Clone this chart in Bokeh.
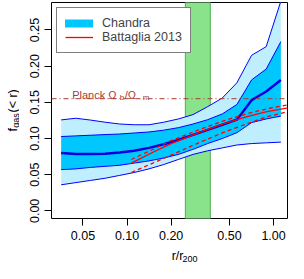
import math
from bokeh.plotting import figure
from bokeh.layouts import row, column
from bokeh.models import (Range1d, FixedTicker, NumeralTickFormatter, Span, Label,
                          Legend, LegendItem)
from bokeh.core.properties import value
from bokeh.embed import file_html
from bokeh.resources import INLINE

# ---------------- data ----------------
r_grid = [0.0355, 0.0447, 0.0562, 0.0708, 0.0891, 0.112, 0.141, 0.178,
          0.224, 0.282, 0.355, 0.447, 0.562, 0.708, 0.891, 1.122]
outer_lo = [0.036, 0.039, 0.042, 0.045, 0.049, 0.053, 0.058, 0.064,
            0.071, 0.078, 0.083, 0.087, 0.091, 0.093, 0.094, 0.095]
inner_lo = [0.057, 0.058, 0.060, 0.0615, 0.063, 0.066, 0.069, 0.073,
            0.078, 0.085, 0.093, 0.100, 0.108, 0.122, 0.127, 0.131]
median = [0.080, 0.0785, 0.0785, 0.079, 0.0805, 0.083, 0.087, 0.092,
          0.098, 0.105, 0.112, 0.119, 0.126, 0.153, 0.165, 0.181]
inner_hi = [0.1027, 0.1036, 0.1045, 0.1054, 0.1062, 0.1076, 0.109, 0.1115,
            0.115, 0.120, 0.126, 0.134, 0.147, 0.181, 0.196, 0.234]
outer_hi = [0.1257, 0.128, 0.1255, 0.1225, 0.120, 0.119, 0.119, 0.1225,
            0.127, 0.133, 0.144, 0.156, 0.177, 0.215, 0.227, 0.290]

batt_r = [0.107, 0.15, 0.2, 0.3, 0.45, 0.65, 0.9, 1.3]
batt_mid = [0.066, 0.081, 0.093, 0.107, 0.120, 0.130, 0.137, 0.143]
batt_hi = [0.071, 0.085, 0.097, 0.111, 0.124, 0.134, 0.141, 0.147]
batt_lo = [0.053, 0.066, 0.077, 0.093, 0.108, 0.120, 0.130, 0.138]

highlight_range = [0.25, 0.37]
planck_fb = 0.155

x_ticks = [0.05, 0.1, 0.2, 0.5, 1.0]
y_ticks = [0.0, 0.05, 0.10, 0.15, 0.20, 0.25]

# ---------------- style ----------------
FONT = "Liberation Sans"
LIGHT = "#bfefff"
CYAN = "#00c8ff"
BLUE = "#0000ff"
RED = "#ff0000"
PLANCK = "#a83a34"

YLAB_W = 19
XLAB_H = 18
P_W = 288 - YLAB_W
P_H = 263 - XLAB_H
B_LEFT, B_RIGHT, B_TOP, B_BOTTOM = 32, 1, 2, 27

p = figure(width=P_W, height=P_H, x_axis_type="log",
           x_range=Range1d(0.0305, 1.245), y_range=Range1d(-0.0106, 0.288),
           output_backend="svg", toolbar_location=None,
           min_border_left=B_LEFT, min_border_right=B_RIGHT, min_border_top=B_TOP,
           min_border_bottom=B_BOTTOM)
p.grid.visible = False
p.outline_line_color = "black"
p.outline_line_width = 1
p.background_fill_color = "white"
p.border_fill_color = "white"

for ax in (p.xaxis[0], p.yaxis[0]):
    ax.axis_line_color = None
    ax.major_tick_out = 7
    ax.major_tick_in = 0
    ax.minor_tick_out = 0
    ax.minor_tick_in = 0
    ax.major_tick_line_color = "black"
    ax.major_label_text_font = FONT
    ax.major_label_text_font_size = "12.5px"
    ax.major_label_text_color = "black"
    ax.formatter = NumeralTickFormatter(format="0.00")

p.xaxis.ticker = FixedTicker(ticks=x_ticks, minor_ticks=[])
p.yaxis.ticker = FixedTicker(ticks=y_ticks, minor_ticks=[])
p.xaxis.major_label_standoff = 5
p.yaxis.major_label_standoff = 5
p.yaxis.major_label_orientation = "vertical"

# green highlight
p.quad(left=[highlight_range[0]], right=[highlight_range[1]], bottom=[-1], top=[1],
       fill_color="#88e38a", line_color="#4caf50", line_width=1)

# bands
p.varea(x=r_grid, y1=outer_lo, y2=outer_hi, fill_color=LIGHT)
p.varea(x=r_grid, y1=inner_lo, y2=inner_hi, fill_color=CYAN)
for arr in (outer_lo, inner_lo, inner_hi, outer_hi):
    p.line(r_grid, arr, line_color=BLUE, line_width=1)
p.line(r_grid, median, line_color="#0000dd", line_width=2.5)

# Battaglia
p.line(batt_r, batt_mid, line_color=RED, line_width=1.3)
p.line(batt_r, batt_hi, line_color=RED, line_width=1.3, line_dash="4 3")
p.line(batt_r, batt_lo, line_color=RED, line_width=1.3, line_dash="4 3")

# Planck
p.add_layout(Span(location=planck_fb, dimension="width", line_color=PLANCK,
                  line_width=1, line_dash="5 3 1 3"))


def lab(text, x, y, size="11px", dx=0, dy=0):
    p.add_layout(Label(text=text, x=x, y=y, x_offset=dx, y_offset=dy,
                       text_font=FONT, text_font_size=size, text_color=PLANCK,
                       text_align="left", text_baseline="alphabetic"))


px0 = 0.0422
lab("Planck \u03a9", px0, planck_fb, dy=4)
lab("b", px0, planck_fb, size="8px", dx=47.5, dy=1.5)
lab("/\u03a9", px0, planck_fb, dx=52.5, dy=4)
lab("m", px0, planck_fb, size="8px", dx=70.5, dy=1.5)

# legend (proxy renderers lying outside the visible ranges)
r_ch = p.line([0.001, 0.002], [-5, -5], line_color=CYAN, line_width=8, line_cap="round")
r_bt = p.line([0.001, 0.002], [-5, -5], line_color=RED, line_width=1.3)
legend = Legend(items=[LegendItem(label="Chandra", renderers=[r_ch]),
                       LegendItem(label="Battaglia 2013", renderers=[r_bt])],
                location="top_left", margin=5, padding=8, spacing=0,
                glyph_width=28, glyph_height=14, label_height=14, label_standoff=9,
                label_text_font=FONT, label_text_font_size="12.5px",
                border_line_color="black", border_line_width=1,
                background_fill_color="white", background_fill_alpha=1)
p.add_layout(legend)


# ---------------- axis-title strips ----------------
def strip(w, h):
    f = figure(width=w, height=h, x_range=Range1d(0, w), y_range=Range1d(0, h),
               output_backend="svg", toolbar_location=None,
               x_axis_location=None, y_axis_location=None,
               min_border=0, outline_line_color=None)
    f.grid.visible = False
    return f


TOTAL_H = P_H + XLAB_H
frame_h = P_H - B_TOP - B_BOTTOM
ylab = strip(YLAB_W, TOTAL_H)
yc = TOTAL_H - B_TOP - frame_h / 2      # vertical centre of the plot frame
y0 = yc - 21
ylab.text(x=[12], y=[y0], text=["f"], angle=math.pi / 2, text_font=value(FONT),
          text_font_size="12.5px", text_align="left", text_baseline="alphabetic", text_color="black")
ylab.text(x=[15], y=[y0 + 3.8], text=["gas"], angle=math.pi / 2, text_font=value(FONT),
          text_font_size="9px", text_align="left", text_baseline="alphabetic", text_color="black")
ylab.text(x=[12], y=[y0 + 19], text=["(< r)"], angle=math.pi / 2, text_font=value(FONT),
          text_font_size="12.5px", text_align="left", text_baseline="alphabetic", text_color="black")

xlab = strip(P_W, XLAB_H)
xc = B_LEFT + (P_W - B_LEFT - B_RIGHT) / 2
x0 = xc - 13
xlab.text(x=[x0], y=[8], text=["r/r"], text_font=value(FONT), text_font_size="12.5px",
          text_align="left", text_baseline="alphabetic", text_color="black")
xlab.text(x=[x0 + 12.2], y=[5], text=["200"], text_font=value(FONT), text_font_size="9px",
          text_align="left", text_baseline="alphabetic", text_color="black")

layout = row(ylab, column(p, xlab, spacing=0), spacing=0)

open("out.html", "w").write(file_html(layout, INLINE))
